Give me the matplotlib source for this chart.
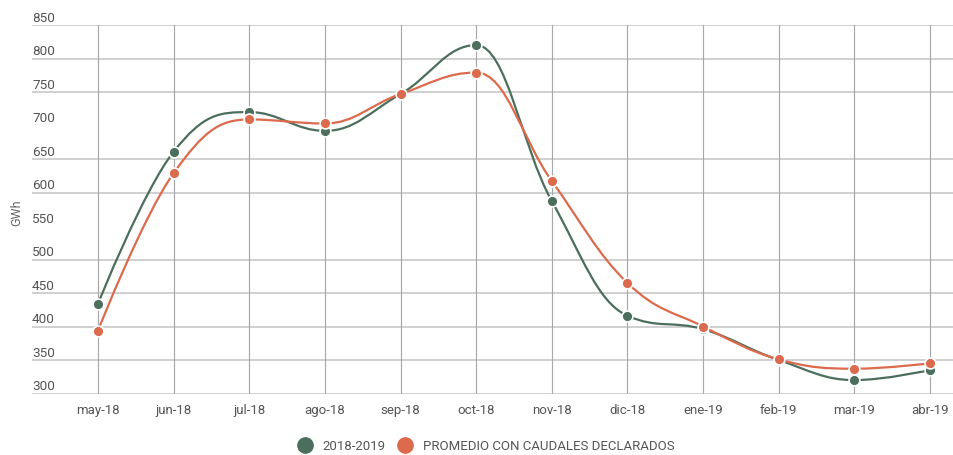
import matplotlib
matplotlib.use("Agg")
import matplotlib.pyplot as plt
import matplotlib.transforms as mtransforms
from matplotlib.path import Path
from matplotlib.patches import PathPatch
from matplotlib.lines import Line2D
import numpy as np

categories = ["may-18", "jun-18", "jul-18", "ago-18", "sep-18", "oct-18",
              "nov-18", "dic-18", "ene-19", "feb-19", "mar-19", "abr-19"]
serie_2018 = [434, 661, 720, 692, 747, 820, 587, 416, 396, 350, 320, 335]
serie_prom = [394, 629, 709, 703, 747, 779, 617, 465, 400, 351, 337, 345]
ytick_labels = [850, 800, 750, 700, 650, 600, 550, 500, 450, 400, 350, 300]
grid_levels = [850, 800, 750, 650, 600, 500, 450, 400, 350, 300]
series_names = ["2018-2019", "PROMEDIO CON CAUDALES DECLARADOS"]

GREEN = "#4b6f5c"
ORANGE = "#dc6a4d"
TEXT = "#555555"

plt.rcParams['font.family'] = ['Roboto', 'DejaVu Sans']

fig = plt.figure(figsize=(9.54, 4.56), dpi=100)
ax = fig.add_axes([32/954, (456-394.5)/456, 1 - 32/954, (394.5-26)/456])
ax.set_xlim(-0.873, 11.317)
ax.set_ylim(300, 850)
for s in ax.spines.values():
    s.set_visible(False)

x = np.arange(len(categories))
ax.set_xticks(x)
ax.set_xticklabels(categories, color=TEXT, fontsize=9.5)
ax.tick_params(axis='x', length=0, pad=7)
ax.set_yticks([])
ax.xaxis.grid(True, color="#a8a8a8", lw=0.85)
ax.set_axisbelow(True)
for g in grid_levels:
    ax.axhline(g, color="#d0d0d0", lw=1.4, zorder=0.5)

trans = mtransforms.blended_transform_factory(ax.transAxes, ax.transData)
trans = mtransforms.offset_copy(trans, fig=fig, x=0, y=1, units='dots')
for v in ytick_labels:
    ax.text(0, v, str(v), transform=trans, ha='left', va='bottom',
            color=TEXT, fontsize=9.7)

fig.text(17/954, 1 - 213/456, "GWh", rotation=90, ha='center', va='center',
         color="#666666", fontsize=9)


def spline_path(xs, ys, smoothing=1.5):
    n = len(xs)
    denom = smoothing + 1
    lc = [None] * n
    rc = [None] * n
    for i in range(n):
        px, py = xs[i], ys[i]
        if i == 0 or i == n - 1:
            lc[i] = (px, py)
            rc[i] = (px, py)
            continue
        lx, ly = xs[i-1], ys[i-1]
        nx, ny = xs[i+1], ys[i+1]
        lcx = (smoothing*px + lx)/denom
        lcy = (smoothing*py + ly)/denom
        rcx = (smoothing*px + nx)/denom
        rcy = (smoothing*py + ny)/denom
        if rcx != lcx:
            corr = ((rcy - lcy)*(rcx - px))/(rcx - lcx) + py - rcy
            lcy += corr
            rcy += corr
        if lcy > ly and lcy > py:
            lcy = max(ly, py); rcy = 2*py - lcy
        elif lcy < ly and lcy < py:
            lcy = min(ly, py); rcy = 2*py - lcy
        if rcy > ny and rcy > py:
            rcy = max(ny, py); lcy = 2*py - rcy
        elif rcy < ny and rcy < py:
            rcy = min(ny, py); lcy = 2*py - rcy
        lc[i] = (lcx, lcy)
        rc[i] = (rcx, rcy)
    verts = [(xs[0], ys[0])]
    codes = [Path.MOVETO]
    for i in range(1, n):
        verts += [rc[i-1], lc[i], (xs[i], ys[i])]
        codes += [Path.CURVE4]*3
    return Path(verts, codes)


for ys, col, z in [(serie_2018, GREEN, 3), (serie_prom, ORANGE, 4)]:
    p = spline_path(list(x.astype(float)), [float(v) for v in ys])
    ax.add_patch(PathPatch(p, fill=False, edgecolor=col, lw=1.6, zorder=z))
    ax.plot(x, ys, linestyle='none', marker='o', markersize=7.8,
            markerfacecolor=col, markeredgecolor='white', markeredgewidth=1.2,
            zorder=z + 0.5)

handles = [Line2D([], [], linestyle='none', marker='o', markersize=11,
                  markerfacecolor=c, markeredgecolor=c) for c in (GREEN, ORANGE)]
leg = fig.legend(handles, series_names, loc='center', bbox_to_anchor=(0.51, 1 - 447/456),
                 ncol=2, frameon=False, fontsize=9.5, handletextpad=0.8,
                 columnspacing=1.0, handlelength=1.0)
for t in leg.get_texts():
    t.set_color(TEXT)

fig.savefig("out.png", dpi=100, facecolor='white')
